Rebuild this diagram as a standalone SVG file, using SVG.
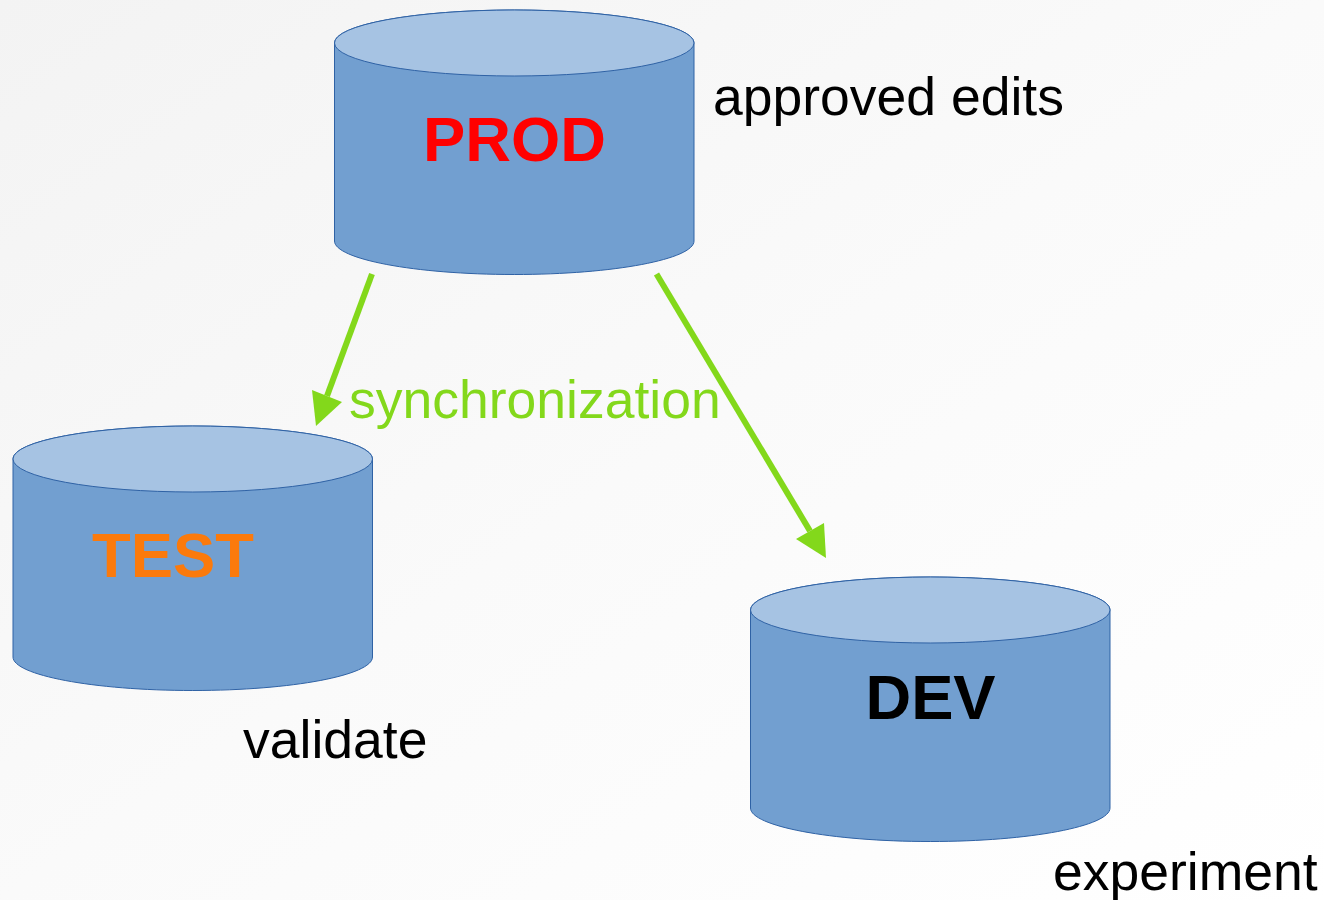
<svg xmlns="http://www.w3.org/2000/svg" width="1324" height="900" viewBox="0 0 1324 900">
<defs>
<linearGradient id="bg" x1="0" y1="0" x2="1" y2="1"><stop offset="0" stop-color="#f3f3f3"/><stop offset="0.5" stop-color="#fafafa"/><stop offset="1" stop-color="#ffffff"/></linearGradient>
<path id="cyl" d="M0 33C0 15 80 0 179.75 0S359.5 15 359.5 33V231C359.5 249 280 264.500 179.750 264.500S0 249 0 231Z"/>
</defs>
<style>
.body{fill:#729fd0;stroke:#2f62a5;stroke-width:1}
.top{fill:#a6c3e3;stroke:#2f62a5;stroke-width:1}
.t{font-family:"Liberation Sans",Arial,sans-serif;font-size:53.5px;fill:#000}
.b{font-family:"Liberation Sans",Arial,sans-serif;font-size:63.300px;font-weight:bold}
.c{stroke:#83d81b;stroke-width:6;fill:none}
.h{fill:#83d81b}
</style>
<rect width="1324" height="900" fill="url(#bg)"/>
<g id="connectors">
<line class="c" x1="372" y1="274" x2="327" y2="396"/>
<polygon class="h" points="316,426 312,390 342,402"/>
<line class="c" x1="656.500" y1="274" x2="810" y2="531"/>
<polygon class="h" points="826,558 824,523 796,539"/>
</g>
<g id="prod"><use href="#cyl" x="334.500" y="10" class="body"/><ellipse class="top" cx="514.250" cy="43" rx="179.750" ry="33"/><text class="b" x="514.500" y="161" text-anchor="middle" fill="#ff0000">PROD</text></g>
<g id="test"><use href="#cyl" x="13" y="426" class="body"/><ellipse class="top" cx="192.750" cy="459" rx="179.750" ry="33"/><text class="b" x="173" y="576.500" text-anchor="middle" fill="#fb7a0c">TEST</text></g>
<g id="dev"><use href="#cyl" x="750.500" y="577" class="body"/><ellipse class="top" cx="930.250" cy="610" rx="179.750" ry="33"/><text class="b" x="930.500" y="719" text-anchor="middle" fill="#000">DEV</text></g>
<text class="t" x="713" y="115">approved edits</text>
<text class="t" x="243" y="757.500">validate</text>
<text class="t" x="1053" y="890">experiment</text>
<text class="t" x="349" y="418" style="fill:#83d81b">synchronization</text>
</svg>
